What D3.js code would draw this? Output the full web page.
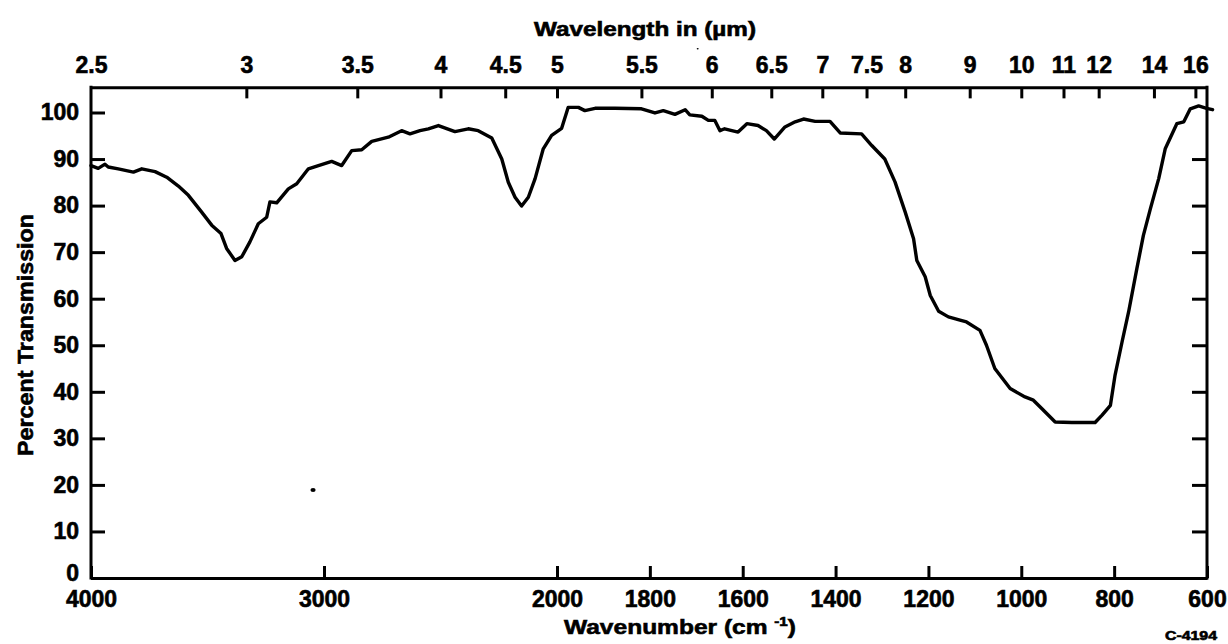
<!DOCTYPE html>
<html>
<head>
<meta charset="utf-8">
<script src="https://cdn.jsdelivr.net/npm/d3@7/dist/d3.min.js"></script>
<style>
  html, body { margin: 0; padding: 0; background: #fff; }
  svg { display: block; }
  text { font-family: "Liberation Sans", Arial, Helvetica, sans-serif; font-weight: bold; fill: #000; }
  .lbl { stroke: #000; stroke-width: 0.6px; }
</style>
</head>
<body>
<svg id="chart" width="1228" height="644"></svg>
<script>
// Infrared transmission spectrum: wavenumber (cm-1) vs percent transmission
const wavenumber = [
  4000, 3969, 3940, 3926, 3883, 3818, 3782, 3725, 3675, 3625, 3582, 3525, 3482, 3442,
  3418, 3382, 3353, 3318, 3282, 3246, 3232, 3203, 3153, 3117, 3067, 3024, 2967, 2924,
  2881, 2838, 2795, 2724, 2667, 2631, 2588, 2552, 2509, 2438, 2381, 2338, 2280, 2237,
  2209, 2180, 2152, 2123, 2094, 2059, 2023, 1990, 1976, 1954, 1940, 1918, 1875, 1818,
  1789, 1771, 1746, 1724, 1714, 1688, 1674, 1660, 1649, 1639, 1610, 1591, 1567, 1549,
  1532, 1509, 1487, 1469, 1444, 1412, 1390, 1344, 1322, 1294, 1272, 1250, 1232, 1225,
  1207, 1196, 1178, 1157, 1132, 1118, 1089, 1075, 1057, 1024, 992, 974, 956, 927,
  891, 841, 826, 808, 798, 783, 769, 751, 737, 722, 704, 690, 665, 650,
  636, 618, 601, 588
];
const transmission = [
  88.6, 88.0, 88.9, 88.3, 87.9, 87.2, 87.9, 87.3, 86.1, 84.2, 82.2, 78.6, 75.8, 74.0,
  70.8, 68.2, 69.0, 72.2, 76.1, 77.5, 80.8, 80.6, 83.6, 84.7, 87.9, 88.6, 89.5, 88.6,
  91.8, 92.0, 93.8, 94.7, 96.1, 95.4, 96.1, 96.5, 97.2, 95.9, 96.5, 96.1, 94.5, 90.0,
  85.0, 81.8, 79.9, 81.8, 85.8, 92.2, 95.1, 96.6, 101.1, 101.1, 100.4, 100.9, 100.9, 100.8,
  99.9, 100.4, 99.6, 100.6, 99.5, 99.2, 98.3, 98.3, 96.1, 96.5, 95.8, 97.6, 97.2, 96.1,
  94.3, 96.9, 98.0, 98.6, 98.1, 98.1, 95.6, 95.4, 92.9, 90.0, 85.1, 78.6, 72.9, 68.2,
  64.7, 60.7, 57.3, 56.1, 55.4, 55.0, 53.2, 50.0, 45.0, 40.7, 38.9, 38.2, 36.4, 33.5,
  33.4, 33.4, 35.0, 37.1, 43.6, 50.7, 57.1, 66.5, 73.6, 79.3, 85.8, 92.2, 97.6, 98.0,
  100.8, 101.4, 100.9, 100.6
];

// Bottom axis ticks (wavenumber) and top axis ticks (wavelength, µm)
const wavenumberTicks = [4000, 3000, 2000, 1800, 1600, 1400, 1200, 1000, 800, 600];
const wavelengthTicks = [2.5, 3, 3.5, 4, 4.5, 5, 5.5, 6, 6.5, 7, 7.5, 8, 9, 10, 11, 12, 14, 16];
const percentTicks = [0, 10, 20, 30, 40, 50, 60, 70, 80, 90, 100];
const rightTicks = [10, 20, 30, 40, 50, 60, 70, 80, 90];

// Stray specks on the sheet: [wavenumber, percent, radius]
const specks = [[3047, 18.9, 2.6], [1697, 113.7, 1.0]];

const svg = d3.select("#chart");

// Grating-change chart: scale is compressed above 2000 cm-1
const x = d3.scaleLinear().domain([4000, 2000, 600]).range([91, 557, 1207]);
const y = d3.scaleLinear().domain([0, 100]).range([578, 112.5]);
const yMaxFrame = 105.4;

const xLeft = x(4000), xRight = x(600), yBottom = y(0), yTopEdge = y(yMaxFrame);

function styleAxis(g) {
  g.selectAll("path.domain").attr("stroke", "#000").attr("stroke-width", 3);
  g.selectAll(".tick line").attr("stroke", "#000").attr("stroke-width", 3);
  g.selectAll(".tick text").attr("class", "lbl").attr("font-size", 23)
    .attr("font-family", null);
}

// Bottom axis
const gB = svg.append("g").attr("transform", `translate(0,${yBottom})`)
  .call(d3.axisBottom(x).tickValues(wavenumberTicks).tickFormat(d3.format("d"))
    .tickSizeInner(-12).tickSizeOuter(0).tickPadding(13));
styleAxis(gB);

// Top axis (wavelength in µm)
const gT = svg.append("g").attr("transform", `translate(0,${yTopEdge})`)
  .call(d3.axisTop(x).tickValues(wavelengthTicks.map(l => 10000 / l))
    .tickFormat((d, i) => String(wavelengthTicks[i]))
    .tickSizeInner(-11).tickSizeOuter(0).tickPadding(14));
styleAxis(gT);
gT.selectAll(".tick line").filter((d, i) => i === 0).remove();

// Left axis
const gL = svg.append("g").attr("transform", `translate(${xLeft},0)`)
  .call(d3.axisLeft(y).tickValues(percentTicks).tickFormat(d3.format("d"))
    .tickSizeInner(-14).tickSizeOuter(0).tickPadding(12));
styleAxis(gL);
gL.select("path.domain").attr("d", `M0,${yBottom + 1.5}V${yTopEdge - 1.5}`);
// the "0" sits a little above the corner so it clears the 4000 label
gL.selectAll(".tick text").filter(d => d === 0).attr("dy", "0.1em");

// Right axis (ticks only)
const gR = svg.append("g").attr("transform", `translate(${xRight},0)`)
  .call(d3.axisRight(y).tickValues(rightTicks).tickFormat("")
    .tickSizeInner(-15).tickSizeOuter(0));
styleAxis(gR);
gR.select("path.domain").attr("d", `M0,${yBottom + 1.5}V${yTopEdge - 1.5}`);

// Spectrum trace
const line = d3.line()
  .x((d, i) => x(wavenumber[i]))
  .y((d, i) => y(transmission[i]));
svg.append("path")
  .datum(wavenumber)
  .attr("d", line)
  .attr("fill", "none")
  .attr("stroke", "#000")
  .attr("stroke-width", 3.4)
  .attr("stroke-linejoin", "round")
  .attr("stroke-linecap", "round");

svg.selectAll("ellipse.speck").data(specks).join("ellipse")
  .attr("class", "speck")
  .attr("cx", d => x(d[0])).attr("cy", d => y(d[1]))
  .attr("rx", d => d[2]).attr("ry", d => d[2] * 0.75)
  .attr("fill", "#000");

// Axis titles
svg.append("text").attr("class", "lbl")
  .attr("x", 645).attr("y", 36).attr("text-anchor", "middle")
  .attr("font-size", 20).attr("textLength", 222).attr("lengthAdjust", "spacingAndGlyphs")
  .text("Wavelength in (µm)");

const xt = svg.append("text").attr("class", "lbl")
  .attr("x", 680).attr("y", 634).attr("text-anchor", "middle")
  .attr("font-size", 21).attr("textLength", 232).attr("lengthAdjust", "spacingAndGlyphs");
xt.append("tspan").text("Wavenumber (cm ");
xt.append("tspan").attr("font-size", 13).attr("dy", -8).text("-1");
xt.append("tspan").attr("dy", 8).text(")");

svg.append("text").attr("class", "lbl")
  .attr("transform", `translate(33,${335}) rotate(-90)`)
  .attr("text-anchor", "middle").attr("font-size", 22)
  .attr("textLength", 242).attr("lengthAdjust", "spacingAndGlyphs")
  .text("Percent Transmission");

svg.append("text").attr("class", "lbl")
  .attr("x", 1217).attr("y", 640).attr("text-anchor", "end")
  .attr("font-size", 12).attr("textLength", 52).attr("lengthAdjust", "spacingAndGlyphs")
  .text("C-4194");
</script>
</body>
</html>
